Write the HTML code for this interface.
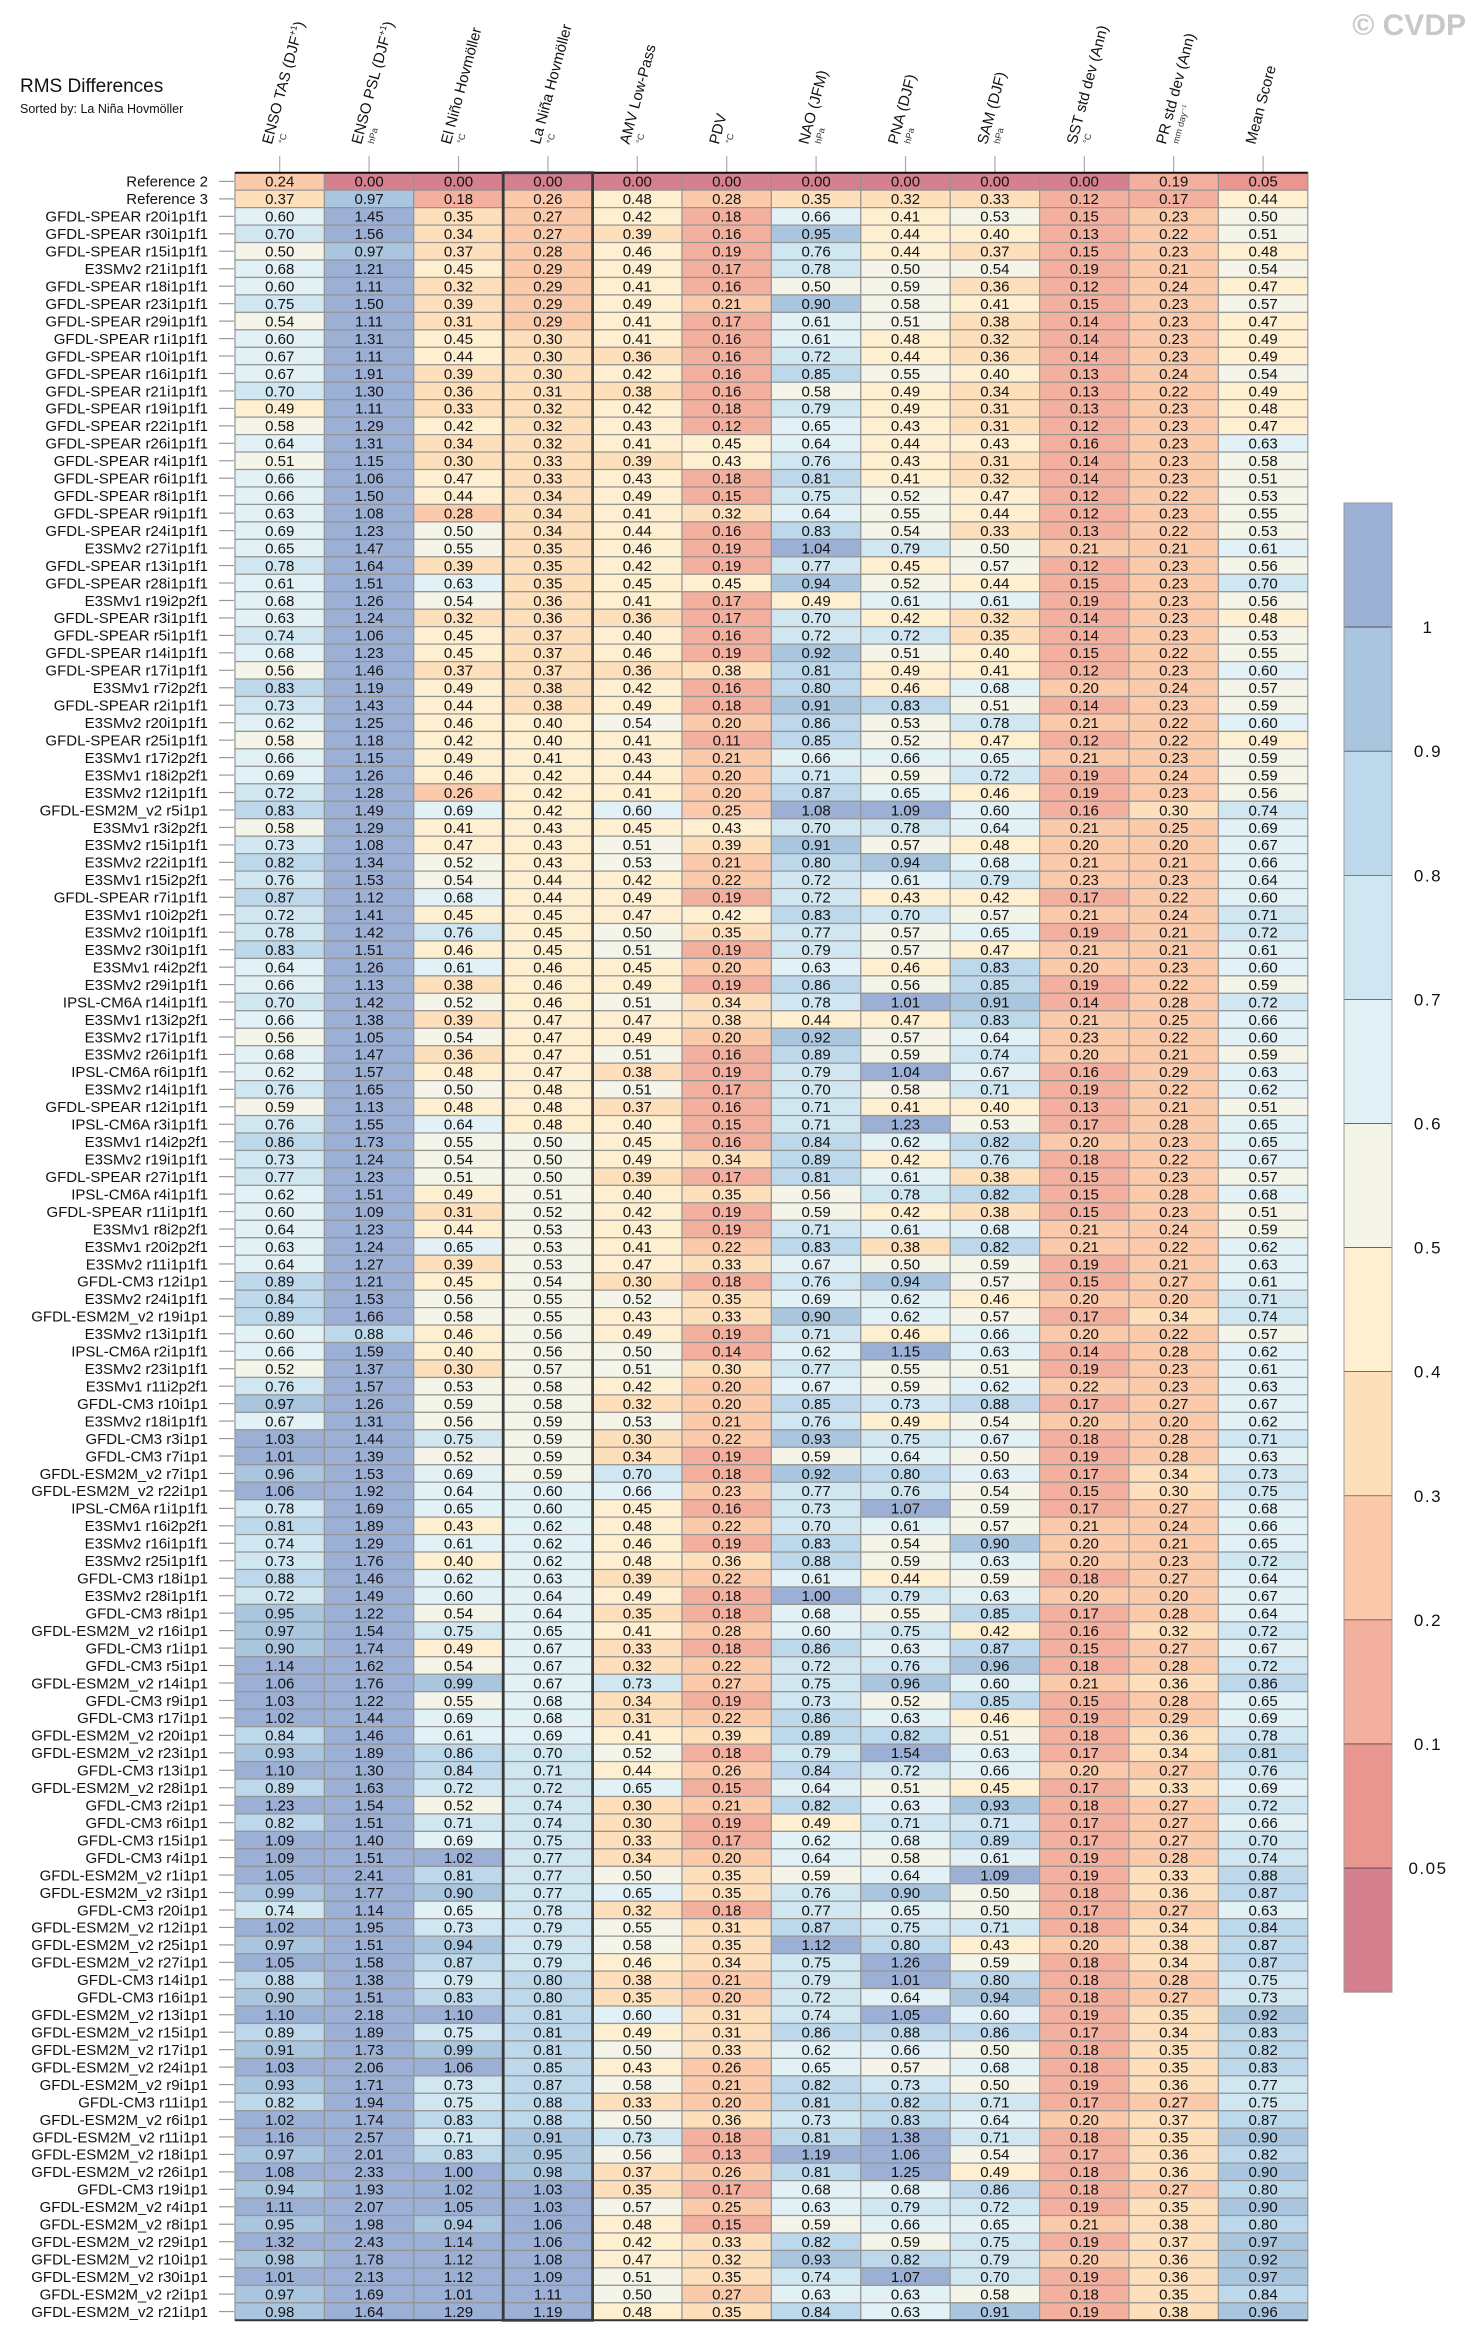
<!DOCTYPE html>
<html><head><meta charset="utf-8"><style>
html,body{margin:0;padding:0;background:#fff;}
svg{display:block;font-family:"Liberation Sans",Arial,sans-serif;}
</style></head><body>
<svg id="chart" width="1469" height="2344" viewBox="0 0 1469 2344" xmlns="http://www.w3.org/2000/svg">
<text x="20" y="92" font-size="19" fill="#111">RMS Differences</text>
<text x="20" y="113" font-size="12.5" fill="#111">Sorted by: La Niña Hovmöller</text>
<text x="1466" y="35" font-size="30" font-weight="bold" fill="#c8c8c8" text-anchor="end">© CVDP</text>
<g id="headers"></g>
<g id="cells"></g>
<g id="rowlabels"></g>
<g id="colorbar"></g>
</svg>
<script>
const columnNames=["ENSO TAS (DJF","ENSO PSL (DJF","El Niño Hovmöller","La Niña Hovmöller","AMV Low-Pass","PDV","NAO (JFM)","PNA (DJF)","SAM (DJF)","SST std dev (Ann)","PR std dev (Ann)","Mean Score"];
const columnUnits=["°C","hPa","°C","°C","°C","°C","hPa","hPa","hPa","°C","mm day⁻¹",""];
const colorbarTicks=["1","0.9","0.8","0.7","0.6","0.5","0.4","0.3","0.2","0.1","0.05"];
const binEdges=[0.05,0.1,0.2,0.3,0.4,0.5,0.6,0.7,0.8,0.9,1.0];
const modelNames=["Reference 2","Reference 3","GFDL-SPEAR r20i1p1f1","GFDL-SPEAR r30i1p1f1","GFDL-SPEAR r15i1p1f1","E3SMv2 r21i1p1f1","GFDL-SPEAR r18i1p1f1","GFDL-SPEAR r23i1p1f1","GFDL-SPEAR r29i1p1f1","GFDL-SPEAR r1i1p1f1",
"GFDL-SPEAR r10i1p1f1","GFDL-SPEAR r16i1p1f1","GFDL-SPEAR r21i1p1f1","GFDL-SPEAR r19i1p1f1","GFDL-SPEAR r22i1p1f1","GFDL-SPEAR r26i1p1f1","GFDL-SPEAR r4i1p1f1","GFDL-SPEAR r6i1p1f1","GFDL-SPEAR r8i1p1f1","GFDL-SPEAR r9i1p1f1",
"GFDL-SPEAR r24i1p1f1","E3SMv2 r27i1p1f1","GFDL-SPEAR r13i1p1f1","GFDL-SPEAR r28i1p1f1","E3SMv1 r19i2p2f1","GFDL-SPEAR r3i1p1f1","GFDL-SPEAR r5i1p1f1","GFDL-SPEAR r14i1p1f1","GFDL-SPEAR r17i1p1f1","E3SMv1 r7i2p2f1",
"GFDL-SPEAR r2i1p1f1","E3SMv2 r20i1p1f1","GFDL-SPEAR r25i1p1f1","E3SMv1 r17i2p2f1","E3SMv1 r18i2p2f1","E3SMv2 r12i1p1f1","GFDL-ESM2M_v2 r5i1p1","E3SMv1 r3i2p2f1","E3SMv2 r15i1p1f1","E3SMv2 r22i1p1f1",
"E3SMv1 r15i2p2f1","GFDL-SPEAR r7i1p1f1","E3SMv1 r10i2p2f1","E3SMv2 r10i1p1f1","E3SMv2 r30i1p1f1","E3SMv1 r4i2p2f1","E3SMv2 r29i1p1f1","IPSL-CM6A r14i1p1f1","E3SMv1 r13i2p2f1","E3SMv2 r17i1p1f1",
"E3SMv2 r26i1p1f1","IPSL-CM6A r6i1p1f1","E3SMv2 r14i1p1f1","GFDL-SPEAR r12i1p1f1","IPSL-CM6A r3i1p1f1","E3SMv1 r14i2p2f1","E3SMv2 r19i1p1f1","GFDL-SPEAR r27i1p1f1","IPSL-CM6A r4i1p1f1","GFDL-SPEAR r11i1p1f1",
"E3SMv1 r8i2p2f1","E3SMv1 r20i2p2f1","E3SMv2 r11i1p1f1","GFDL-CM3 r12i1p1","E3SMv2 r24i1p1f1","GFDL-ESM2M_v2 r19i1p1","E3SMv2 r13i1p1f1","IPSL-CM6A r2i1p1f1","E3SMv2 r23i1p1f1","E3SMv1 r11i2p2f1",
"GFDL-CM3 r10i1p1","E3SMv2 r18i1p1f1","GFDL-CM3 r3i1p1","GFDL-CM3 r7i1p1","GFDL-ESM2M_v2 r7i1p1","GFDL-ESM2M_v2 r22i1p1","IPSL-CM6A r1i1p1f1","E3SMv1 r16i2p2f1","E3SMv2 r16i1p1f1","E3SMv2 r25i1p1f1",
"GFDL-CM3 r18i1p1","E3SMv2 r28i1p1f1","GFDL-CM3 r8i1p1","GFDL-ESM2M_v2 r16i1p1","GFDL-CM3 r1i1p1","GFDL-CM3 r5i1p1","GFDL-ESM2M_v2 r14i1p1","GFDL-CM3 r9i1p1","GFDL-CM3 r17i1p1","GFDL-ESM2M_v2 r20i1p1",
"GFDL-ESM2M_v2 r23i1p1","GFDL-CM3 r13i1p1","GFDL-ESM2M_v2 r28i1p1","GFDL-CM3 r2i1p1","GFDL-CM3 r6i1p1","GFDL-CM3 r15i1p1","GFDL-CM3 r4i1p1","GFDL-ESM2M_v2 r1i1p1","GFDL-ESM2M_v2 r3i1p1","GFDL-CM3 r20i1p1",
"GFDL-ESM2M_v2 r12i1p1","GFDL-ESM2M_v2 r25i1p1","GFDL-ESM2M_v2 r27i1p1","GFDL-CM3 r14i1p1","GFDL-CM3 r16i1p1","GFDL-ESM2M_v2 r13i1p1","GFDL-ESM2M_v2 r15i1p1","GFDL-ESM2M_v2 r17i1p1","GFDL-ESM2M_v2 r24i1p1","GFDL-ESM2M_v2 r9i1p1",
"GFDL-CM3 r11i1p1","GFDL-ESM2M_v2 r6i1p1","GFDL-ESM2M_v2 r11i1p1","GFDL-ESM2M_v2 r18i1p1","GFDL-ESM2M_v2 r26i1p1","GFDL-CM3 r19i1p1","GFDL-ESM2M_v2 r4i1p1","GFDL-ESM2M_v2 r8i1p1","GFDL-ESM2M_v2 r29i1p1","GFDL-ESM2M_v2 r10i1p1",
"GFDL-ESM2M_v2 r30i1p1","GFDL-ESM2M_v2 r2i1p1","GFDL-ESM2M_v2 r21i1p1"];
const ensoTas=[0.24,0.37,0.60,0.70,0.50,0.68,0.60,0.75,0.54,0.60,0.67,0.67,0.70,0.49,0.58,0.64,0.51,0.66,0.66,0.63,0.69,0.65,0.78,0.61,0.68,0.63,0.74,0.68,0.56,0.83,0.73,0.62,0.58,0.66,0.69,0.72,0.83,0.58,0.73,0.82,0.76,0.87,0.72,0.78,0.83,0.64,0.66,0.70,0.66,0.56,0.68,0.62,0.76,0.59,0.76,0.86,0.73,0.77,0.62,0.60,0.64,0.63,0.64,0.89,0.84,0.89,0.60,0.66,0.52,0.76,0.97,0.67,1.03,1.01,0.96,1.06,0.78,0.81,0.74,0.73,0.88,0.72,0.95,0.97,0.90,1.14,1.06,1.03,1.02,0.84,0.93,1.10,0.89,1.23,0.82,1.09,1.09,1.05,0.99,0.74,1.02,0.97,1.05,0.88,0.90,1.10,0.89,0.91,1.03,0.93,0.82,1.02,1.16,0.97,1.08,0.94,1.11,0.95,1.32,0.98,1.01,0.97,0.98];
const ensoPsl=[0.00,0.97,1.45,1.56,0.97,1.21,1.11,1.50,1.11,1.31,1.11,1.91,1.30,1.11,1.29,1.31,1.15,1.06,1.50,1.08,1.23,1.47,1.64,1.51,1.26,1.24,1.06,1.23,1.46,1.19,1.43,1.25,1.18,1.15,1.26,1.28,1.49,1.29,1.08,1.34,1.53,1.12,1.41,1.42,1.51,1.26,1.13,1.42,1.38,1.05,1.47,1.57,1.65,1.13,1.55,1.73,1.24,1.23,1.51,1.09,1.23,1.24,1.27,1.21,1.53,1.66,0.88,1.59,1.37,1.57,1.26,1.31,1.44,1.39,1.53,1.92,1.69,1.89,1.29,1.76,1.46,1.49,1.22,1.54,1.74,1.62,1.76,1.22,1.44,1.46,1.89,1.30,1.63,1.54,1.51,1.40,1.51,2.41,1.77,1.14,1.95,1.51,1.58,1.38,1.51,2.18,1.89,1.73,2.06,1.71,1.94,1.74,2.57,2.01,2.33,1.93,2.07,1.98,2.43,1.78,2.13,1.69,1.64];
const elNino=[0.00,0.18,0.35,0.34,0.37,0.45,0.32,0.39,0.31,0.45,0.44,0.39,0.36,0.33,0.42,0.34,0.30,0.47,0.44,0.28,0.50,0.55,0.39,0.63,0.54,0.32,0.45,0.45,0.37,0.49,0.44,0.46,0.42,0.49,0.46,0.26,0.69,0.41,0.47,0.52,0.54,0.68,0.45,0.76,0.46,0.61,0.38,0.52,0.39,0.54,0.36,0.48,0.50,0.48,0.64,0.55,0.54,0.51,0.49,0.31,0.44,0.65,0.39,0.45,0.56,0.58,0.46,0.40,0.30,0.53,0.59,0.56,0.75,0.52,0.69,0.64,0.65,0.43,0.61,0.40,0.62,0.60,0.54,0.75,0.49,0.54,0.99,0.55,0.69,0.61,0.86,0.84,0.72,0.52,0.71,0.69,1.02,0.81,0.90,0.65,0.73,0.94,0.87,0.79,0.83,1.10,0.75,0.99,1.06,0.73,0.75,0.83,0.71,0.83,1.00,1.02,1.05,0.94,1.14,1.12,1.12,1.01,1.29];
const laNina=[0.00,0.26,0.27,0.27,0.28,0.29,0.29,0.29,0.29,0.30,0.30,0.30,0.31,0.32,0.32,0.32,0.33,0.33,0.34,0.34,0.34,0.35,0.35,0.35,0.36,0.36,0.37,0.37,0.37,0.38,0.38,0.40,0.40,0.41,0.42,0.42,0.42,0.43,0.43,0.43,0.44,0.44,0.45,0.45,0.45,0.46,0.46,0.46,0.47,0.47,0.47,0.47,0.48,0.48,0.48,0.50,0.50,0.50,0.51,0.52,0.53,0.53,0.53,0.54,0.55,0.55,0.56,0.56,0.57,0.58,0.58,0.59,0.59,0.59,0.59,0.60,0.60,0.62,0.62,0.62,0.63,0.64,0.64,0.65,0.67,0.67,0.67,0.68,0.68,0.69,0.70,0.71,0.72,0.74,0.74,0.75,0.77,0.77,0.77,0.78,0.79,0.79,0.79,0.80,0.80,0.81,0.81,0.81,0.85,0.87,0.88,0.88,0.91,0.95,0.98,1.03,1.03,1.06,1.06,1.08,1.09,1.11,1.19];
const amv=[0.00,0.48,0.42,0.39,0.46,0.49,0.41,0.49,0.41,0.41,0.36,0.42,0.38,0.42,0.43,0.41,0.39,0.43,0.49,0.41,0.44,0.46,0.42,0.45,0.41,0.36,0.40,0.46,0.36,0.42,0.49,0.54,0.41,0.43,0.44,0.41,0.60,0.45,0.51,0.53,0.42,0.49,0.47,0.50,0.51,0.45,0.49,0.51,0.47,0.49,0.51,0.38,0.51,0.37,0.40,0.45,0.49,0.39,0.40,0.42,0.43,0.41,0.47,0.30,0.52,0.43,0.49,0.50,0.51,0.42,0.32,0.53,0.30,0.34,0.70,0.66,0.45,0.48,0.46,0.48,0.39,0.49,0.35,0.41,0.33,0.32,0.73,0.34,0.31,0.41,0.52,0.44,0.65,0.30,0.30,0.33,0.34,0.50,0.65,0.32,0.55,0.58,0.46,0.38,0.35,0.60,0.49,0.50,0.43,0.58,0.33,0.50,0.73,0.56,0.37,0.35,0.57,0.48,0.42,0.47,0.51,0.50,0.48];
const pdv=[0.00,0.28,0.18,0.16,0.19,0.17,0.16,0.21,0.17,0.16,0.16,0.16,0.16,0.18,0.12,0.45,0.43,0.18,0.15,0.32,0.16,0.19,0.19,0.45,0.17,0.17,0.16,0.19,0.38,0.16,0.18,0.20,0.11,0.21,0.20,0.20,0.25,0.43,0.39,0.21,0.22,0.19,0.42,0.35,0.19,0.20,0.19,0.34,0.38,0.20,0.16,0.19,0.17,0.16,0.15,0.16,0.34,0.17,0.35,0.19,0.19,0.22,0.33,0.18,0.35,0.33,0.19,0.14,0.30,0.20,0.20,0.21,0.22,0.19,0.18,0.23,0.16,0.22,0.19,0.36,0.22,0.18,0.18,0.28,0.18,0.22,0.27,0.19,0.22,0.39,0.18,0.26,0.15,0.21,0.19,0.17,0.20,0.35,0.35,0.18,0.31,0.35,0.34,0.21,0.20,0.31,0.31,0.33,0.26,0.21,0.20,0.36,0.18,0.13,0.26,0.17,0.25,0.15,0.33,0.32,0.35,0.27,0.35];
const nao=[0.00,0.35,0.66,0.95,0.76,0.78,0.50,0.90,0.61,0.61,0.72,0.85,0.58,0.79,0.65,0.64,0.76,0.81,0.75,0.64,0.83,1.04,0.77,0.94,0.49,0.70,0.72,0.92,0.81,0.80,0.91,0.86,0.85,0.66,0.71,0.87,1.08,0.70,0.91,0.80,0.72,0.72,0.83,0.77,0.79,0.63,0.86,0.78,0.44,0.92,0.89,0.79,0.70,0.71,0.71,0.84,0.89,0.81,0.56,0.59,0.71,0.83,0.67,0.76,0.69,0.90,0.71,0.62,0.77,0.67,0.85,0.76,0.93,0.59,0.92,0.77,0.73,0.70,0.83,0.88,0.61,1.00,0.68,0.60,0.86,0.72,0.75,0.73,0.86,0.89,0.79,0.84,0.64,0.82,0.49,0.62,0.64,0.59,0.76,0.77,0.87,1.12,0.75,0.79,0.72,0.74,0.86,0.62,0.65,0.82,0.81,0.73,0.81,1.19,0.81,0.68,0.63,0.59,0.82,0.93,0.74,0.63,0.84];
const pna=[0.00,0.32,0.41,0.44,0.44,0.50,0.59,0.58,0.51,0.48,0.44,0.55,0.49,0.49,0.43,0.44,0.43,0.41,0.52,0.55,0.54,0.79,0.45,0.52,0.61,0.42,0.72,0.51,0.49,0.46,0.83,0.53,0.52,0.66,0.59,0.65,1.09,0.78,0.57,0.94,0.61,0.43,0.70,0.57,0.57,0.46,0.56,1.01,0.47,0.57,0.59,1.04,0.58,0.41,1.23,0.62,0.42,0.61,0.78,0.42,0.61,0.38,0.50,0.94,0.62,0.62,0.46,1.15,0.55,0.59,0.73,0.49,0.75,0.64,0.80,0.76,1.07,0.61,0.54,0.59,0.44,0.79,0.55,0.75,0.63,0.76,0.96,0.52,0.63,0.82,1.54,0.72,0.51,0.63,0.71,0.68,0.58,0.64,0.90,0.65,0.75,0.80,1.26,1.01,0.64,1.05,0.88,0.66,0.57,0.73,0.82,0.83,1.38,1.06,1.25,0.68,0.79,0.66,0.59,0.82,1.07,0.63,0.63];
const sam=[0.00,0.33,0.53,0.40,0.37,0.54,0.36,0.41,0.38,0.32,0.36,0.40,0.34,0.31,0.31,0.43,0.31,0.32,0.47,0.44,0.33,0.50,0.57,0.44,0.61,0.32,0.35,0.40,0.41,0.68,0.51,0.78,0.47,0.65,0.72,0.46,0.60,0.64,0.48,0.68,0.79,0.42,0.57,0.65,0.47,0.83,0.85,0.91,0.83,0.64,0.74,0.67,0.71,0.40,0.53,0.82,0.76,0.38,0.82,0.38,0.68,0.82,0.59,0.57,0.46,0.57,0.66,0.63,0.51,0.62,0.88,0.54,0.67,0.50,0.63,0.54,0.59,0.57,0.90,0.63,0.59,0.63,0.85,0.42,0.87,0.96,0.60,0.85,0.46,0.51,0.63,0.66,0.45,0.93,0.71,0.89,0.61,1.09,0.50,0.50,0.71,0.43,0.59,0.80,0.94,0.60,0.86,0.50,0.68,0.50,0.71,0.64,0.71,0.54,0.49,0.86,0.72,0.65,0.75,0.79,0.70,0.58,0.91];
const sstStd=[0.00,0.12,0.15,0.13,0.15,0.19,0.12,0.15,0.14,0.14,0.14,0.13,0.13,0.13,0.12,0.16,0.14,0.14,0.12,0.12,0.13,0.21,0.12,0.15,0.19,0.14,0.14,0.15,0.12,0.20,0.14,0.21,0.12,0.21,0.19,0.19,0.16,0.21,0.20,0.21,0.23,0.17,0.21,0.19,0.21,0.20,0.19,0.14,0.21,0.23,0.20,0.16,0.19,0.13,0.17,0.20,0.18,0.15,0.15,0.15,0.21,0.21,0.19,0.15,0.20,0.17,0.20,0.14,0.19,0.22,0.17,0.20,0.18,0.19,0.17,0.15,0.17,0.21,0.20,0.20,0.18,0.20,0.17,0.16,0.15,0.18,0.21,0.15,0.19,0.18,0.17,0.20,0.17,0.18,0.17,0.17,0.19,0.19,0.18,0.17,0.18,0.20,0.18,0.18,0.18,0.19,0.17,0.18,0.18,0.19,0.17,0.20,0.18,0.17,0.18,0.18,0.19,0.21,0.19,0.20,0.19,0.18,0.19];
const prStd=[0.19,0.17,0.23,0.22,0.23,0.21,0.24,0.23,0.23,0.23,0.23,0.24,0.22,0.23,0.23,0.23,0.23,0.23,0.22,0.23,0.22,0.21,0.23,0.23,0.23,0.23,0.23,0.22,0.23,0.24,0.23,0.22,0.22,0.23,0.24,0.23,0.30,0.25,0.20,0.21,0.23,0.22,0.24,0.21,0.21,0.23,0.22,0.28,0.25,0.22,0.21,0.29,0.22,0.21,0.28,0.23,0.22,0.23,0.28,0.23,0.24,0.22,0.21,0.27,0.20,0.34,0.22,0.28,0.23,0.23,0.27,0.20,0.28,0.28,0.34,0.30,0.27,0.24,0.21,0.23,0.27,0.20,0.28,0.32,0.27,0.28,0.36,0.28,0.29,0.36,0.34,0.27,0.33,0.27,0.27,0.27,0.28,0.33,0.36,0.27,0.34,0.38,0.34,0.28,0.27,0.35,0.34,0.35,0.35,0.36,0.27,0.37,0.35,0.36,0.36,0.27,0.35,0.38,0.37,0.36,0.36,0.35,0.38];
const meanScore=[0.05,0.44,0.50,0.51,0.48,0.54,0.47,0.57,0.47,0.49,0.49,0.54,0.49,0.48,0.47,0.63,0.58,0.51,0.53,0.55,0.53,0.61,0.56,0.70,0.56,0.48,0.53,0.55,0.60,0.57,0.59,0.60,0.49,0.59,0.59,0.56,0.74,0.69,0.67,0.66,0.64,0.60,0.71,0.72,0.61,0.60,0.59,0.72,0.66,0.60,0.59,0.63,0.62,0.51,0.65,0.65,0.67,0.57,0.68,0.51,0.59,0.62,0.63,0.61,0.71,0.74,0.57,0.62,0.61,0.63,0.67,0.62,0.71,0.63,0.73,0.75,0.68,0.66,0.65,0.72,0.64,0.67,0.64,0.72,0.67,0.72,0.86,0.65,0.69,0.78,0.81,0.76,0.69,0.72,0.66,0.70,0.74,0.88,0.87,0.63,0.84,0.87,0.87,0.75,0.73,0.92,0.83,0.82,0.83,0.77,0.75,0.87,0.90,0.82,0.90,0.80,0.90,0.80,0.97,0.92,0.97,0.84,0.96];

const series=[ensoTas,ensoPsl,elNino,laNina,amv,pdv,nao,pna,sam,sstStd,prStd,meanScore];
const binColors=["#d4808f","#e8968f","#f4b09f","#fbcaab","#fde0bb","#fdefd0","#f4f4e9","#e2f1f6","#d0e7f1","#bdd8ea","#aac5de","#9cafd4"];
const NS="http://www.w3.org/2000/svg";
const tableLeft=235, colW=89.4, tableTop=172.7, rowH=17.46;
function xCol(c){return tableLeft+c*colW;}
function yRow(r){return tableTop+r*rowH;}
function colorFor(v){let b=0;for(let i=0;i<binEdges.length;i++){if(v>=binEdges[i]-1e-9)b=i+1;}return binColors[b];}
function mk(tag,attrs,parent){const e=document.createElementNS(NS,tag);for(const k in attrs)e.setAttribute(k,attrs[k]);parent.appendChild(e);return e;}

const gCells=document.getElementById('cells');
const gLabels=document.getElementById('rowlabels');
const gHead=document.getElementById('headers');
const nRows=modelNames.length, nCols=series.length;
const tableBottom=yRow(nRows), tableRight=xCol(nCols);

for(let c=0;c<nCols;c++){
  for(let r=0;r<nRows;r++){
    const v=series[c][r];
    const rect=mk('rect',{x:xCol(c),y:yRow(r),width:colW,height:rowH,fill:colorFor(v),stroke:'#959595','stroke-width':1.2},gCells);
    
    
    const t=mk('text',{x:xCol(c)+colW/2,y:yRow(r)+rowH/2+5.3,'text-anchor':'middle','font-size':15,fill:'#111'},gCells);
    
    
    t.textContent=v.toFixed(2);
  }
}
const topLine=mk('line',{x1:tableLeft,x2:tableRight,y1:tableTop,y2:tableTop,stroke:'#111','stroke-width':2},gCells);


const botLine=mk('line',{x1:tableLeft,x2:tableRight,y1:tableBottom,y2:tableBottom,stroke:'#333','stroke-width':2},gCells);


const sortBox=mk('rect',{x:xCol(3),y:tableTop,width:colW,height:tableBottom-tableTop,fill:'none',stroke:'#3a3a3a','stroke-width':2.8},gCells);



for(let r=0;r<nRows;r++){
  const yc=yRow(r)+rowH/2;
  const tk=mk('line',{x1:219,x2:234,y1:yc,y2:yc,stroke:'#999','stroke-width':1.2},gLabels);
  
  
  const t=mk('text',{x:208,y:yc+5.3,'text-anchor':'end','font-size':15,fill:'#111'},gLabels);
  
  
  t.textContent=modelNames[r];
}

for(let c=0;c<nCols;c++){
  const xc=xCol(c)+colW/2;
  const tk=mk('line',{x1:xc,x2:xc,y1:156,y2:172,stroke:'#aaa','stroke-width':1.2},gHead);
  
  
  const g=mk('g',{transform:'translate('+(xc-8)+',145) rotate(-75)'},gHead);
  
  
  const t=mk('text',{x:0,y:0,'font-size':15,fill:'#111'},g);
  t.textContent=columnNames[c];
  if(c<2){
    const sup=mk('tspan',{'font-size':9,dy:-6},t);sup.textContent='+1';
    const cl=mk('tspan',{dy:6},t);cl.textContent=')';
  }
  if(columnUnits[c]){
    const u=mk('text',{x:4,y:12,'font-size':9,fill:'#333'},g);
    
    
    u.textContent=columnUnits[c];
  }
}

const gCb=document.getElementById('colorbar');
const cbX=1344, cbW=48, cbTop=503, segH=124.1;
for(let i=0;i<binColors.length;i++){
  const rect=mk('rect',{x:cbX,y:cbTop+i*segH,width:cbW,height:segH,fill:binColors[binColors.length-1-i],stroke:'#333','stroke-width':0.6},gCb);
  
  
}
const cbFrame=mk('rect',{x:cbX,y:cbTop,width:cbW,height:segH*binColors.length,fill:'none',stroke:'#999','stroke-width':1},gCb);


for(let i=0;i<colorbarTicks.length;i++){
  const t=mk('text',{x:1428,y:cbTop+(i+1)*segH+6,'text-anchor':'middle','font-size':17,'letter-spacing':'1.5',fill:'#111'},gCb);
  
  
  t.textContent=colorbarTicks[i];
}
</script>
</body></html>
